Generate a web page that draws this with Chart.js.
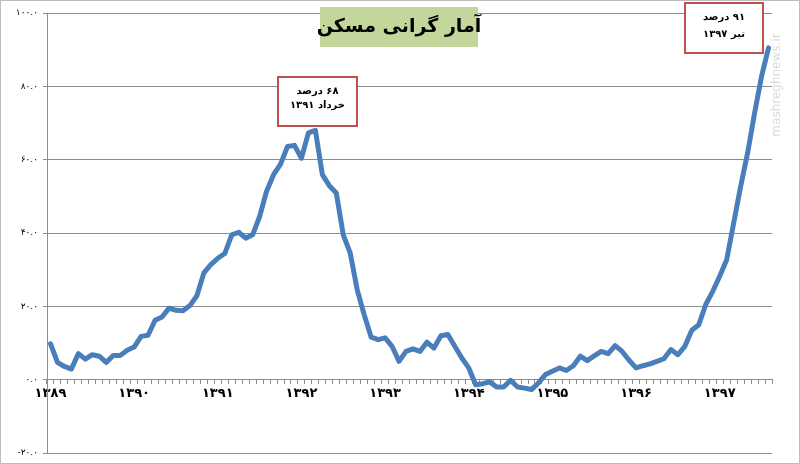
<!DOCTYPE html>
<html>
<head>
<meta charset="utf-8">
<script src="https://cdn.jsdelivr.net/npm/chart.js@4.4.0/dist/chart.umd.min.js"></script>
<style>
  html, body { margin: 0; padding: 0; background: #fff; }
  canvas { display: block; }
</style>
</head>
<body>
<canvas id="myChart" width="800" height="464"></canvas>
<script>
// years shown on the x axis, one category per month
var years = ["۱۳۸۹", "۱۳۹۰", "۱۳۹۱", "۱۳۹۲", "۱۳۹۳", "۱۳۹۴", "۱۳۹۵", "۱۳۹۶", "۱۳۹۷"];
var monthsInLastYear = 8;

// yearly change of housing price, percent
var values = [
  9.8, 4.7, 3.6, 2.9, 7.1, 5.6, 6.8, 6.4, 4.7, 6.6, 6.6, 8.0,
  8.9, 11.8, 12.1, 16.2, 17.1, 19.5, 18.9, 18.8, 20.2, 22.9, 29.1, 31.4,
  33.1, 34.4, 39.5, 40.2, 38.6, 39.5, 44.5, 51.4, 55.9, 58.8, 63.6, 63.9,
  60.4, 67.3, 68.0, 55.9, 52.9, 50.9, 39.5, 34.5, 24.5, 17.7, 11.6, 10.9,
  11.4, 9.1, 5.0, 7.7, 8.4, 7.7, 10.2, 8.6, 12.0, 12.3, 9.1, 5.9,
  3.2, -1.4, -1.1, -0.6, -2.0, -2.0, -0.2, -2.0, -2.3, -2.7, -0.9, 1.4,
  2.3, 3.2, 2.5, 3.8, 6.4, 5.2, 6.5, 7.7, 7.1, 9.3, 7.7, 5.3,
  3.2, 3.8, 4.3, 5.0, 5.7, 8.2, 6.8, 9.1, 13.5, 15.0, 20.5, 24.1,
  28.2, 32.7, 42.7, 52.7, 61.8, 72.7, 82.7, 90.5
];

var yTickLabels = ["-۲۰.۰", "۰.۰", "۲۰.۰", "۴۰.۰", "۶۰.۰", "۸۰.۰", "۱۰۰.۰"];

var title = "آمار گرانی مسکن";
var notes = [
  { x: 278, y: 77, w: 79, h: 49, lines: ["۶۸ درصد", "خرداد ۱۳۹۱"], ly: [91, 105] },
  { x: 685, y: 3, w: 78, h: 50, lines: ["۹۱ درصد", "تیر ۱۳۹۷"], ly: [17, 34] }
];

var labels = [];
for (var i = 0; i < years.length; i++) {
  var n = i == years.length - 1 ? monthsInLastYear : 12;
  for (var m = 1; m <= n; m++) labels.push(years[i] + "/" + m);
}

var gridColor = "#8c8c8c";

var extras = {
  id: "extras",
  afterDraw: function (chart) {
    var c = chart.ctx;
    c.save();
    // outer frame
    c.strokeStyle = "#bdbdbd";
    c.lineWidth = 1;
    c.strokeRect(0.5, 0.5, 799, 463);

    // title box
    c.fillStyle = "#c3d69b";
    c.fillRect(320, 7, 158, 40);
    c.fillStyle = "#000";
    c.direction = "rtl";
    c.font = "bold 19px 'DejaVu Sans', sans-serif";
    c.textAlign = "center";
    c.textBaseline = "middle";
    c.fillText(title, 399, 27);

    // note boxes
    c.font = "bold 10px 'DejaVu Sans', sans-serif";
    notes.forEach(function (b) {
      c.fillStyle = "#fff";
      c.fillRect(b.x, b.y, b.w, b.h);
      c.strokeStyle = "#c0504d";
      c.lineWidth = 2;
      c.strokeRect(b.x, b.y, b.w, b.h);
      c.fillStyle = "#000";
      b.lines.forEach(function (t, k) {
        c.fillText(t, b.x + b.w / 2, b.ly[k]);
      });
    });

    // watermark
    c.direction = "ltr";
    c.translate(777, 85);
    c.rotate(-Math.PI / 2);
    c.fillStyle = "rgba(150,150,150,0.35)";
    c.font = "12px 'DejaVu Sans', sans-serif";
    c.fillText("mashreghnews.ir", 0, 0);
    c.restore();
  }
};

var ctx = document.getElementById("myChart").getContext("2d");
var myChart = new Chart(ctx, {
  type: "line",
  data: {
    labels: labels,
    datasets: [
      {
        data: values,
        borderColor: "#4a7ebb",
        borderWidth: 5,
        borderJoinStyle: "round",
        borderCapStyle: "round",
        pointRadius: 0,
        fill: false,
        tension: 0,
      },
    ],
  },
  options: {
    responsive: false,
    animation: false,
    devicePixelRatio: 1,
    layout: { padding: { left: 0, right: 28, top: 13, bottom: 11 } },
    plugins: { legend: { display: false }, tooltip: { enabled: false } },
    scales: {
      x: {
        position: { y: 0 },
        offset: true,
        grid: { drawOnChartArea: false, offset: true, tickLength: 4, color: gridColor },
        border: { color: gridColor },
        ticks: {
          autoSkip: false,
          maxRotation: 0,
          minRotation: 0,
          padding: 2,
          color: "#000",
          font: { family: "'DejaVu Sans', sans-serif", size: 13, weight: "bold" },
          callback: function (v, i) {
            return i % 12 == 0 ? years[i / 12] : "";
          },
        },
      },
      y: {
        min: -20,
        max: 100,
        grid: { color: gridColor, tickLength: 4 },
        border: { color: gridColor },
        ticks: {
          stepSize: 20,
          padding: 5,
          color: "#000",
          font: { family: "'DejaVu Sans', sans-serif", size: 9 },
          callback: function (v) {
            return yTickLabels[Math.round((v + 20) / 20)];
          },
        },
        afterFit: function (s) { s.width = 47; },
      },
    },
  },
  plugins: [extras],
});
</script>
</body>
</html>
